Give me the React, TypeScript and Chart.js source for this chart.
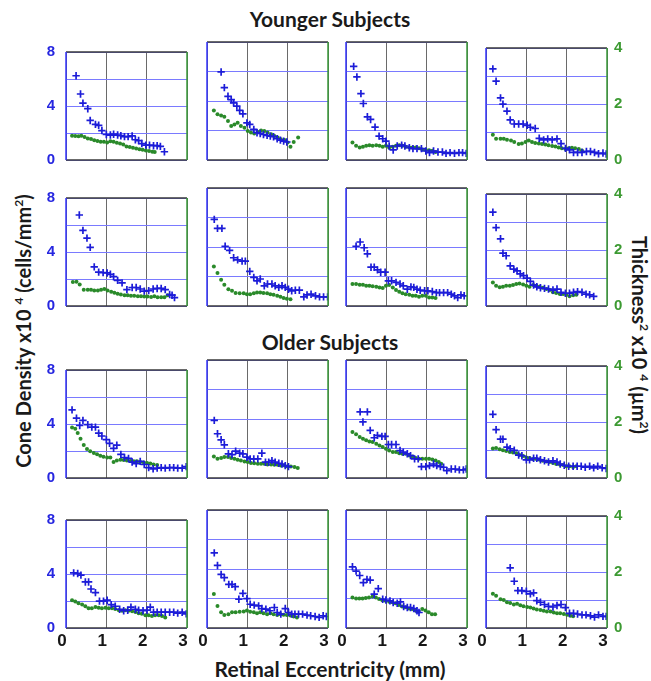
import React, { useEffect, useRef } from "react";
import { Chart, registerables } from "chart.js";
Chart.register(...registerables);

// ---------- data ----------
const X_TICKS = [0, 1, 2, 3];
const CONE_TICKS = [0, 4, 8];
const THICK_TICKS = [0, 2, 4];

// Younger subjects, row 1
const Y1_CONE = [[0.25,6.24],[0.36,4.89],[0.42,4.21],[0.54,3.8],[0.60,2.93],[0.73,2.64],[0.81,2.57],[0.89,2.18],[1.0,1.89],[1.10,1.85],[1.18,1.91],[1.28,1.85],[1.36,1.8],[1.45,1.73],[1.54,1.73],[1.64,1.78],[1.72,1.5],[1.80,1.44],[1.88,1.22],[1.98,1.1],[2.07,1.1],[2.17,1.06],[2.26,1.06],[2.34,1.01],[2.44,0.61]];
const Y1_THICK = [[0.15,0.9],[0.23,0.89],[0.31,0.88],[0.38,0.9],[0.46,0.85],[0.54,0.8],[0.62,0.78],[0.7,0.73],[0.78,0.7],[0.86,0.68],[0.94,0.68],[1.02,0.65],[1.1,0.69],[1.18,0.68],[1.26,0.64],[1.34,0.61],[1.42,0.57],[1.5,0.5],[1.58,0.48],[1.66,0.45],[1.74,0.43],[1.82,0.4],[1.9,0.38],[1.98,0.35],[2.06,0.33],[2.14,0.31],[2.2,0.3]];
const Y2_CONE = [[0.35,5.97],[0.43,4.91],[0.52,4.32],[0.60,4.1],[0.66,3.87],[0.74,3.65],[0.81,3.36],[0.89,3.13],[0.99,2.52],[1.06,2.41],[1.16,2.07],[1.24,1.85],[1.32,1.8],[1.40,1.73],[1.49,1.67],[1.57,1.62],[1.65,1.58],[1.74,1.44],[1.82,1.35],[1.90,1.28],[1.98,1.22]];
const Y2_THICK = [[0.17,1.68],[0.26,1.55],[0.35,1.51],[0.43,1.47],[0.52,1.32],[0.60,1.15],[0.68,1.2],[0.76,1.26],[0.84,1.15],[0.93,1.09],[1.01,0.98],[1.09,0.93],[1.17,0.9],[1.26,0.95],[1.34,1.0],[1.42,0.98],[1.50,0.93],[1.59,0.87],[1.67,0.81],[1.75,0.76],[1.83,0.7],[1.92,0.68],[2.0,0.59],[2.07,0.45],[2.15,0.61],[2.26,0.76]];
const Y3_CONE = [[0.19,6.35],[0.27,5.63],[0.37,4.5],[0.43,3.83],[0.53,2.93],[0.61,2.75],[0.72,2.23],[0.82,1.62],[0.91,1.44],[0.99,1.28],[1.07,0.95],[1.17,0.68],[1.27,0.95],[1.38,1.01],[1.46,0.95],[1.57,0.83],[1.66,0.77],[1.76,0.77],[1.87,0.77],[1.98,0.61],[2.07,0.5],[2.17,0.61],[2.28,0.54],[2.39,0.54],[2.48,0.45],[2.58,0.5],[2.69,0.45],[2.8,0.5],[2.89,0.5],[2.98,0.45]];
const Y3_THICK = [[0.16,0.59],[0.25,0.48],[0.34,0.42],[0.42,0.45],[0.5,0.48],[0.58,0.5],[0.66,0.48],[0.75,0.5],[0.83,0.48],[0.91,0.45],[0.99,0.48],[1.07,0.42],[1.16,0.45],[1.24,0.48],[1.32,0.5],[1.4,0.48],[1.48,0.45],[1.57,0.42],[1.65,0.42],[1.73,0.42],[1.81,0.4],[1.89,0.36],[1.98,0.34],[2.06,0.33],[2.14,0.31],[2.22,0.27]];
const Y4_CONE = [[0.17,6.51],[0.25,5.63],[0.36,4.44],[0.42,3.99],[0.52,3.49],[0.60,2.86],[0.70,2.57],[0.81,2.57],[0.92,2.57],[1.02,2.48],[1.10,2.34],[1.22,2.25],[1.32,1.55],[1.43,1.44],[1.53,1.51],[1.64,1.44],[1.76,1.51],[1.86,1.17],[1.97,0.83],[2.07,0.72],[2.17,0.54],[2.27,0.54],[2.38,0.54],[2.49,0.61],[2.59,0.61],[2.69,0.54],[2.79,0.45],[2.9,0.5],[2.98,0.43]];
const Y4_THICK = [[0.17,0.9],[0.25,0.76],[0.36,0.76],[0.44,0.76],[0.52,0.72],[0.62,0.7],[0.70,0.64],[0.81,0.57],[0.89,0.59],[0.98,0.64],[1.06,0.7],[1.14,0.64],[1.22,0.61],[1.31,0.59],[1.39,0.57],[1.47,0.55],[1.55,0.53],[1.64,0.5],[1.72,0.48],[1.80,0.45],[1.88,0.42],[1.97,0.39],[2.05,0.42],[2.13,0.44],[2.21,0.42],[2.3,0.39],[2.38,0.34]];

// Younger subjects, row 2
const Y5_CONE = [[0.33,6.74],[0.42,5.6],[0.52,5.03],[0.6,4.34],[0.70,2.9],[0.81,2.51],[0.92,2.47],[1.02,2.45],[1.10,2.35],[1.18,2.17],[1.28,1.9],[1.39,1.71],[1.51,1.21],[1.64,1.37],[1.74,1.37],[1.84,1.26],[1.94,1.1],[2.05,1.14],[2.16,1.26],[2.26,1.3],[2.36,1.3],[2.46,1.21],[2.57,0.85],[2.63,0.8],[2.69,0.62]];
const Y5_THICK = [[0.17,0.89],[0.26,0.9],[0.34,0.8],[0.44,0.6],[0.54,0.6],[0.62,0.6],[0.70,0.57],[0.79,0.57],[0.87,0.6],[0.95,0.63],[1.03,0.57],[1.12,0.53],[1.2,0.49],[1.28,0.45],[1.36,0.43],[1.45,0.4],[1.53,0.4],[1.61,0.38],[1.69,0.38],[1.78,0.36],[1.86,0.36],[1.94,0.35],[2.02,0.35],[2.11,0.33],[2.19,0.36],[2.27,0.32],[2.36,0.32],[2.44,0.32],[2.52,0.4]];
const Y6_CONE = [[0.18,5.87],[0.26,5.26],[0.37,5.26],[0.45,4.05],[0.56,3.77],[0.66,3.27],[0.76,3.13],[0.87,3.04],[0.95,3.04],[1.06,2.35],[1.16,1.94],[1.24,1.71],[1.32,1.83],[1.42,1.37],[1.5,1.49],[1.61,1.49],[1.69,1.37],[1.78,1.26],[1.86,1.37],[1.94,1.26],[2.02,1.14],[2.1,1.03],[2.19,1.07],[2.29,1.07],[2.4,0.62],[2.48,0.75],[2.58,0.8],[2.69,0.69],[2.79,0.62],[2.89,0.62],[2.99,0.62]];
const Y6_THICK = [[0.17,1.34],[0.26,1.12],[0.35,0.89],[0.43,0.72],[0.53,0.57],[0.62,0.52],[0.71,0.44],[0.81,0.43],[0.91,0.43],[0.99,0.4],[1.07,0.4],[1.16,0.43],[1.24,0.46],[1.32,0.46],[1.40,0.44],[1.49,0.43],[1.57,0.4],[1.65,0.38],[1.74,0.35],[1.82,0.31],[1.9,0.27],[1.98,0.25],[2.07,0.23]];
const Y7_CONE = [[0.25,4.05],[0.35,4.34],[0.45,3.95],[0.53,3.54],[0.62,2.63],[0.70,2.63],[0.78,2.45],[0.86,2.29],[0.97,2.29],[1.05,1.71],[1.13,1.71],[1.24,1.6],[1.34,1.49],[1.42,1.37],[1.52,1.14],[1.61,1.3],[1.68,1.26],[1.76,1.14],[1.84,1.07],[1.95,1.03],[2.03,1.03],[2.14,0.98],[2.24,0.91],[2.32,0.91],[2.42,0.91],[2.52,0.91],[2.61,0.8],[2.69,0.69],[2.77,0.57],[2.85,0.75],[2.93,0.69]];
const Y7_THICK = [[0.16,0.75],[0.25,0.75],[0.34,0.72],[0.42,0.72],[0.5,0.69],[0.58,0.69],[0.66,0.67],[0.75,0.65],[0.83,0.63],[0.91,0.61],[0.99,0.69],[1.07,0.71],[1.16,0.63],[1.24,0.54],[1.32,0.48],[1.4,0.43],[1.48,0.4],[1.57,0.38],[1.65,0.35],[1.73,0.35],[1.81,0.31],[1.89,0.35],[1.98,0.35],[2.06,0.29],[2.14,0.29],[2.22,0.27]];
const Y8_CONE = [[0.17,6.7],[0.25,5.6],[0.36,4.8],[0.42,3.77],[0.5,3.59],[0.6,2.86],[0.69,2.63],[0.77,2.51],[0.85,2.29],[0.93,2.17],[1.02,1.99],[1.1,1.76],[1.18,1.49],[1.26,1.37],[1.35,1.3],[1.45,1.26],[1.55,1.21],[1.66,1.14],[1.76,1.21],[1.86,0.98],[1.97,0.91],[2.07,0.91],[2.17,0.98],[2.27,1.03],[2.38,0.98],[2.48,0.85],[2.57,0.8],[2.67,0.69]];
const Y8_THICK = [[0.17,0.84],[0.25,0.72],[0.34,0.67],[0.42,0.69],[0.5,0.72],[0.59,0.72],[0.67,0.75],[0.75,0.79],[0.83,0.8],[0.92,0.77],[1.0,0.72],[1.08,0.69],[1.17,0.75],[1.25,0.72],[1.33,0.69],[1.41,0.65],[1.5,0.61],[1.58,0.57],[1.66,0.49],[1.74,0.46],[1.83,0.43],[1.91,0.43],[1.99,0.4],[2.07,0.35],[2.16,0.38],[2.24,0.4]];

// Older subjects, row 3
const O1_CONE = [[0.15,5.05],[0.26,4.43],[0.34,3.89],[0.42,4.27],[0.54,3.95],[0.64,3.77],[0.73,3.77],[0.81,3.32],[0.89,3.11],[1.0,2.84],[1.08,2.57],[1.18,2.2],[1.26,2.43],[1.36,1.75],[1.45,1.52],[1.55,1.45],[1.64,1.18],[1.74,1.07],[1.84,1.23],[1.94,1.0],[2.05,0.77],[2.16,0.68],[2.26,0.73],[2.36,0.77],[2.46,0.73],[2.57,0.77],[2.67,0.77],[2.77,0.73],[2.88,0.73],[2.98,0.84]];
const O1_THICK = [[0.15,1.87],[0.23,1.82],[0.29,1.67],[0.36,1.45],[0.44,1.22],[0.52,1.07],[0.6,0.99],[0.69,0.93],[0.77,0.88],[0.85,0.82],[0.93,0.79],[1.02,0.76],[1.1,0.76],[1.18,0.59],[1.26,0.65],[1.35,0.68],[1.43,0.67],[1.51,0.65],[1.6,0.63],[1.68,0.62],[1.76,0.62],[1.84,0.59],[1.93,0.57],[2.01,0.56],[2.09,0.54],[2.17,0.5],[2.26,0.48]];
const O2_CONE = [[0.18,3.91],[0.26,3.0],[0.35,2.59],[0.43,2.25],[0.53,1.64],[0.62,1.59],[0.71,1.82],[0.81,1.68],[0.89,1.64],[0.99,1.41],[1.07,1.3],[1.16,1.3],[1.26,1.3],[1.36,1.68],[1.45,1.07],[1.53,1.07],[1.61,1.18],[1.69,1.07],[1.78,1.0],[1.86,0.95],[1.94,0.84],[2.02,0.77]];
const O2_THICK = [[0.17,0.73],[0.26,0.65],[0.35,0.68],[0.43,0.71],[0.52,0.71],[0.6,0.68],[0.68,0.65],[0.76,0.62],[0.84,0.59],[0.93,0.56],[1.01,0.54],[1.09,0.51],[1.17,0.5],[1.26,0.48],[1.34,0.48],[1.42,0.48],[1.5,0.46],[1.59,0.46],[1.67,0.45],[1.75,0.45],[1.83,0.42],[1.92,0.42],[2.0,0.39],[2.08,0.39],[2.17,0.37],[2.25,0.34]];
const O3_CONE = [[0.35,4.48],[0.42,3.8],[0.53,4.48],[0.6,3.23],[0.7,2.73],[0.78,2.89],[0.89,2.82],[0.97,2.82],[1.05,2.27],[1.13,2.27],[1.24,2.27],[1.34,1.86],[1.42,1.75],[1.52,1.64],[1.6,1.52],[1.7,1.3],[1.79,1.3],[1.87,0.77],[1.98,0.77],[2.07,0.84],[2.17,0.95],[2.25,0.84],[2.34,0.77],[2.42,0.73],[2.5,0.5],[2.61,0.61],[2.71,0.61],[2.81,0.55],[2.91,0.55],[2.98,0.61]];
const O3_THICK = [[0.16,1.56],[0.25,1.48],[0.34,1.39],[0.42,1.33],[0.5,1.28],[0.58,1.24],[0.66,1.22],[0.75,1.16],[0.83,1.1],[0.91,1.05],[0.99,0.99],[1.07,0.93],[1.16,0.88],[1.24,0.88],[1.32,0.84],[1.4,0.82],[1.48,0.82],[1.57,0.76],[1.65,0.73],[1.73,0.68],[1.81,0.65],[1.89,0.65],[1.98,0.65],[2.06,0.65],[2.14,0.63],[2.22,0.59],[2.3,0.54],[2.36,0.48]];
const O4_CONE = [[0.17,4.55],[0.25,3.45],[0.36,2.77],[0.42,2.77],[0.52,2.2],[0.6,2.09],[0.7,1.98],[0.81,1.64],[0.89,1.59],[1.0,1.3],[1.08,1.3],[1.18,1.41],[1.26,1.41],[1.35,1.3],[1.45,1.23],[1.55,1.14],[1.66,1.23],[1.76,1.14],[1.84,1.0],[1.94,0.91],[2.05,0.84],[2.16,0.84],[2.26,0.84],[2.36,0.84],[2.46,0.77],[2.57,0.84],[2.67,0.73],[2.77,0.84],[2.88,0.73],[2.98,0.68]];
const O4_THICK = [[0.17,1.05],[0.25,1.07],[0.34,1.03],[0.42,0.99],[0.5,0.96],[0.59,0.93],[0.67,0.91],[0.75,0.88],[0.83,0.82],[0.92,0.79],[1.0,0.73],[1.08,0.71],[1.17,0.68],[1.25,0.68],[1.33,0.65],[1.41,0.62],[1.5,0.59],[1.58,0.57],[1.66,0.54],[1.74,0.5],[1.83,0.48],[1.91,0.46],[1.99,0.42],[2.07,0.42],[2.16,0.39],[2.24,0.42]];

// Older subjects, row 4
const O5_CONE = [[0.19,4.08],[0.29,4.04],[0.37,3.92],[0.48,3.41],[0.56,3.41],[0.62,2.89],[0.73,2.62],[0.83,1.99],[0.93,1.99],[1.02,2.06],[1.12,1.73],[1.22,1.61],[1.33,1.39],[1.43,1.28],[1.53,1.32],[1.61,1.55],[1.72,1.39],[1.8,1.32],[1.91,1.28],[2.01,1.32],[2.09,1.55],[2.17,1.17],[2.26,1.17],[2.36,1.17],[2.46,1.17],[2.57,1.17],[2.67,1.17],[2.77,1.1],[2.88,1.17],[2.98,1.05]];
const O5_THICK = [[0.15,1.03],[0.23,0.98],[0.31,0.92],[0.4,0.87],[0.48,0.81],[0.56,0.73],[0.64,0.73],[0.73,0.78],[0.81,0.75],[0.89,0.73],[0.98,0.75],[1.06,0.73],[1.14,0.73],[1.22,0.7],[1.31,0.66],[1.39,0.64],[1.47,0.66],[1.55,0.64],[1.64,0.62],[1.72,0.59],[1.8,0.55],[1.88,0.53],[1.97,0.47],[2.05,0.47],[2.13,0.44],[2.21,0.47],[2.3,0.47],[2.38,0.44],[2.46,0.39]];
const O6_CONE = [[0.18,5.09],[0.26,4.24],[0.35,3.63],[0.43,3.41],[0.54,2.96],[0.62,2.96],[0.7,2.8],[0.79,1.95],[0.89,2.35],[0.99,1.99],[1.07,1.61],[1.17,1.55],[1.28,1.5],[1.36,1.32],[1.46,1.28],[1.56,1.17],[1.67,1.39],[1.74,1.05],[1.83,0.94],[1.94,1.32],[2.02,1.05],[2.1,0.94],[2.18,0.94],[2.27,0.94],[2.37,0.94],[2.48,0.87],[2.57,0.83],[2.68,0.78],[2.78,0.72],[2.88,0.83],[2.96,0.78]];
const O6_THICK = [[0.17,1.15],[0.26,0.75],[0.35,0.53],[0.43,0.44],[0.53,0.47],[0.62,0.53],[0.71,0.53],[0.81,0.55],[0.91,0.56],[0.99,0.59],[1.07,0.55],[1.16,0.53],[1.24,0.5],[1.32,0.53],[1.4,0.5],[1.49,0.47],[1.57,0.5],[1.65,0.47],[1.74,0.44],[1.82,0.47],[1.9,0.45],[1.98,0.44],[2.07,0.42],[2.15,0.39],[2.23,0.36]];
const O7_CONE = [[0.16,4.15],[0.25,3.86],[0.34,3.56],[0.43,3.07],[0.52,3.3],[0.6,3.25],[0.7,2.29],[0.8,2.67],[0.91,1.95],[0.99,1.9],[1.09,1.84],[1.17,1.73],[1.27,1.68],[1.35,1.77],[1.43,1.46],[1.52,1.39],[1.6,1.39],[1.68,1.32],[1.76,1.17],[1.81,1.05]];
const O7_THICK = [[0.16,1.03],[0.25,1.0],[0.33,1.0],[0.41,1.0],[0.49,1.02],[0.57,1.03],[0.66,1.07],[0.74,1.03],[0.82,0.98],[0.9,0.94],[0.98,0.92],[1.07,0.89],[1.15,0.87],[1.23,0.84],[1.31,0.78],[1.39,0.73],[1.48,0.7],[1.56,0.66],[1.64,0.64],[1.72,0.59],[1.8,0.55],[1.89,0.64],[1.97,0.59],[2.05,0.53],[2.13,0.47],[2.21,0.47]];
const O8_CONE = [[0.6,4.3],[0.7,3.34],[0.79,2.67],[0.89,2.67],[1.0,2.62],[1.1,2.44],[1.18,2.51],[1.26,1.95],[1.35,1.84],[1.45,1.68],[1.55,1.55],[1.66,1.5],[1.76,1.61],[1.86,1.68],[1.97,1.46],[2.07,1.05],[2.17,1.05],[2.27,1.0],[2.38,0.94],[2.48,0.94],[2.59,0.87],[2.69,0.78],[2.79,0.94],[2.9,0.83],[2.98,0.83]];
const O8_THICK = [[0.17,1.22],[0.25,1.15],[0.36,1.03],[0.44,1.0],[0.52,0.92],[0.6,0.89],[0.69,0.84],[0.77,0.87],[0.85,0.81],[0.93,0.78],[1.02,0.75],[1.1,0.73],[1.18,0.7],[1.26,0.66],[1.35,0.64],[1.43,0.62],[1.51,0.59],[1.6,0.59],[1.68,0.55],[1.76,0.53],[1.84,0.53],[1.93,0.5],[2.01,0.47],[2.09,0.44],[2.16,0.42]];

const CONE_SERIES = [Y1_CONE, Y2_CONE, Y3_CONE, Y4_CONE, Y5_CONE, Y6_CONE, Y7_CONE, Y8_CONE, O1_CONE, O2_CONE, O3_CONE, O4_CONE, O5_CONE, O6_CONE, O7_CONE, O8_CONE];
const THICK_SERIES = [Y1_THICK, Y2_THICK, Y3_THICK, Y4_THICK, Y5_THICK, Y6_THICK, Y7_THICK, Y8_THICK, O1_THICK, O2_THICK, O3_THICK, O4_THICK, O5_THICK, O6_THICK, O7_THICK, O8_THICK];

// ---------- layout & style ----------
const COL_LEFT = [66, 207, 346, 486];
const ROW_TOP = [42, 188, 360, 510];
const PW = 121;
const PH = 118;
const ML = 40, MR = 34, MT = 10, MB = 30;

const BLUE = "#1c1cd8";
const GREEN = "#2a8a2a";
const TICK_BLUE = "#2626e0";
const TICK_GREEN = "#3c9a32";
const GRID_H = "#7a7aff";
const GRID_V = "#6a6a6a";
const NUM_FONT = "'Liberation Sans', Arial, sans-serif";
const TEXT_FONT = "Lato, 'Open Sans', sans-serif";

const framePlugin = {
  id: "frame",
  afterDatasetsDraw(chart: any) {
    const { ctx, chartArea: a } = chart;
    ctx.save();
    ctx.lineWidth = 1.5;
    const seg = (x1: number, y1: number, x2: number, y2: number, c: string) => {
      ctx.strokeStyle = c;
      ctx.beginPath();
      ctx.moveTo(x1, y1);
      ctx.lineTo(x2, y2);
      ctx.stroke();
    };
    seg(a.left, a.top, a.right, a.top, "#3a3a3a");
    seg(a.left, a.bottom, a.right, a.bottom, "#3a3a3a");
    seg(a.left, a.top, a.left, a.bottom, "#3434ff");
    seg(a.right, a.top, a.right, a.bottom, "#3a9a3a");
    ctx.restore();
  },
};

function Panel({ idx }: { idx: number }) {
  const ref = useRef<HTMLCanvasElement>(null);
  const row = Math.floor(idx / 4);
  const col = idx % 4;
  const W = PW + ML + MR;
  const H = PH + MT + MB;
  useEffect(() => {
    const chart = new Chart(ref.current as HTMLCanvasElement, {
      type: "scatter",
      data: {
        datasets: [
          {
            data: CONE_SERIES[idx].map(([x, y]) => ({ x, y })),
            yAxisID: "y",
            pointStyle: "cross",
            pointRadius: 3.7,
            pointBorderWidth: 1.7,
            borderColor: BLUE,
            backgroundColor: BLUE,
          },
          {
            data: THICK_SERIES[idx].map(([x, y]) => ({ x, y })),
            yAxisID: "y2",
            pointStyle: "circle",
            pointRadius: 2,
            pointBorderWidth: 0,
            borderColor: GREEN,
            backgroundColor: GREEN,
          },
        ],
      } as any,
      options: {
        responsive: false,
        animation: false,
        devicePixelRatio: 1,
        layout: { autoPadding: false, padding: { top: MT, left: 0, right: 0, bottom: 0 } },
        plugins: { legend: { display: false }, tooltip: { enabled: false } },
        scales: {
          x: {
            type: "linear",
            min: 0,
            max: 3,
            position: "bottom",
            afterFit: (s: any) => { s.height = MB; },
            afterBuildTicks: (s: any) => { s.ticks = X_TICKS.map((v) => ({ value: v })); },
            ticks: {
              display: row === 3,
              padding: 3,
              labelOffset: -4,
              color: "#161616",
              font: { family: NUM_FONT, size: 17, weight: "bold" },
              maxRotation: 0,
              autoSkip: false,
            },
            grid: { color: GRID_V, lineWidth: 1, drawTicks: false },
            border: { display: false },
          },
          y: {
            type: "linear",
            min: 0,
            max: 8,
            position: "left",
            afterFit: (s: any) => { s.width = ML; },
            ticks: {
              display: col === 0,
              stepSize: 2,
              padding: 11,
              color: TICK_BLUE,
              font: { family: NUM_FONT, size: 15, weight: "bold" },
              callback: (v: any) => (CONE_TICKS.includes(Number(v)) ? String(v) : ""),
            },
            grid: { color: GRID_H, lineWidth: 1, drawTicks: false },
            border: { display: false },
          },
          y2: {
            type: "linear",
            min: 0,
            max: 4,
            position: "right",
            afterFit: (s: any) => { s.width = MR; },
            ticks: {
              display: col === 3,
              stepSize: 2,
              padding: 7,
              color: TICK_GREEN,
              font: { family: NUM_FONT, size: 15, weight: "bold" },
              callback: (v: any) => (THICK_TICKS.includes(Number(v)) ? String(v) : ""),
            },
            grid: { display: false, drawTicks: false },
            border: { display: false },
          },
        },
      } as any,
      plugins: [framePlugin],
    });
    return () => chart.destroy();
  }, [idx]);
  return (
    <canvas
      ref={ref}
      width={W}
      height={H}
      style={{ position: "absolute", left: COL_LEFT[col] - ML, top: ROW_TOP[row] - MT, width: W, height: H }}
    />
  );
}

const supStyle: React.CSSProperties = { fontSize: "0.6em", verticalAlign: "super", lineHeight: 0 };

export default function App() {
  const titleStyle: React.CSSProperties = {
    position: "absolute",
    left: 130,
    width: 400,
    textAlign: "center",
    fontFamily: TEXT_FONT,
    fontWeight: 700,
    fontSize: 21,
    color: "#1a1a1a",
    lineHeight: "24px",
  };
  const sideStyle: React.CSSProperties = {
    position: "absolute",
    whiteSpace: "nowrap",
    fontFamily: TEXT_FONT,
    fontWeight: 700,
    fontSize: 20,
    color: "#1a1a1a",
  };
  return (
    <div style={{ position: "absolute", left: 0, top: 0, width: 651, height: 681, background: "#fff", overflow: "hidden" }}>
      <div style={{ ...titleStyle, top: 7 }}>Younger Subjects</div>
      <div style={{ ...titleStyle, top: 330 }}>Older Subjects</div>
      <div style={{ ...titleStyle, top: 657 }}>Retinal Eccentricity (mm)</div>
      <div style={{ ...sideStyle, left: 23, top: 331, transform: "translate(-50%, -50%) rotate(-90deg)" }}>
        Cone Density x10 <span style={supStyle}>4</span> (cells/mm<span style={supStyle}>2</span>)
      </div>
      <div style={{ ...sideStyle, left: 640, top: 335, transform: "translate(-50%, -50%) rotate(90deg)" }}>
        Thickness<span style={supStyle}>2</span> x10 <span style={supStyle}>4</span> (µm<span style={supStyle}>2</span>)
      </div>
      {CONE_SERIES.map((_, i) => (
        <Panel key={i} idx={i} />
      ))}
    </div>
  );
}
